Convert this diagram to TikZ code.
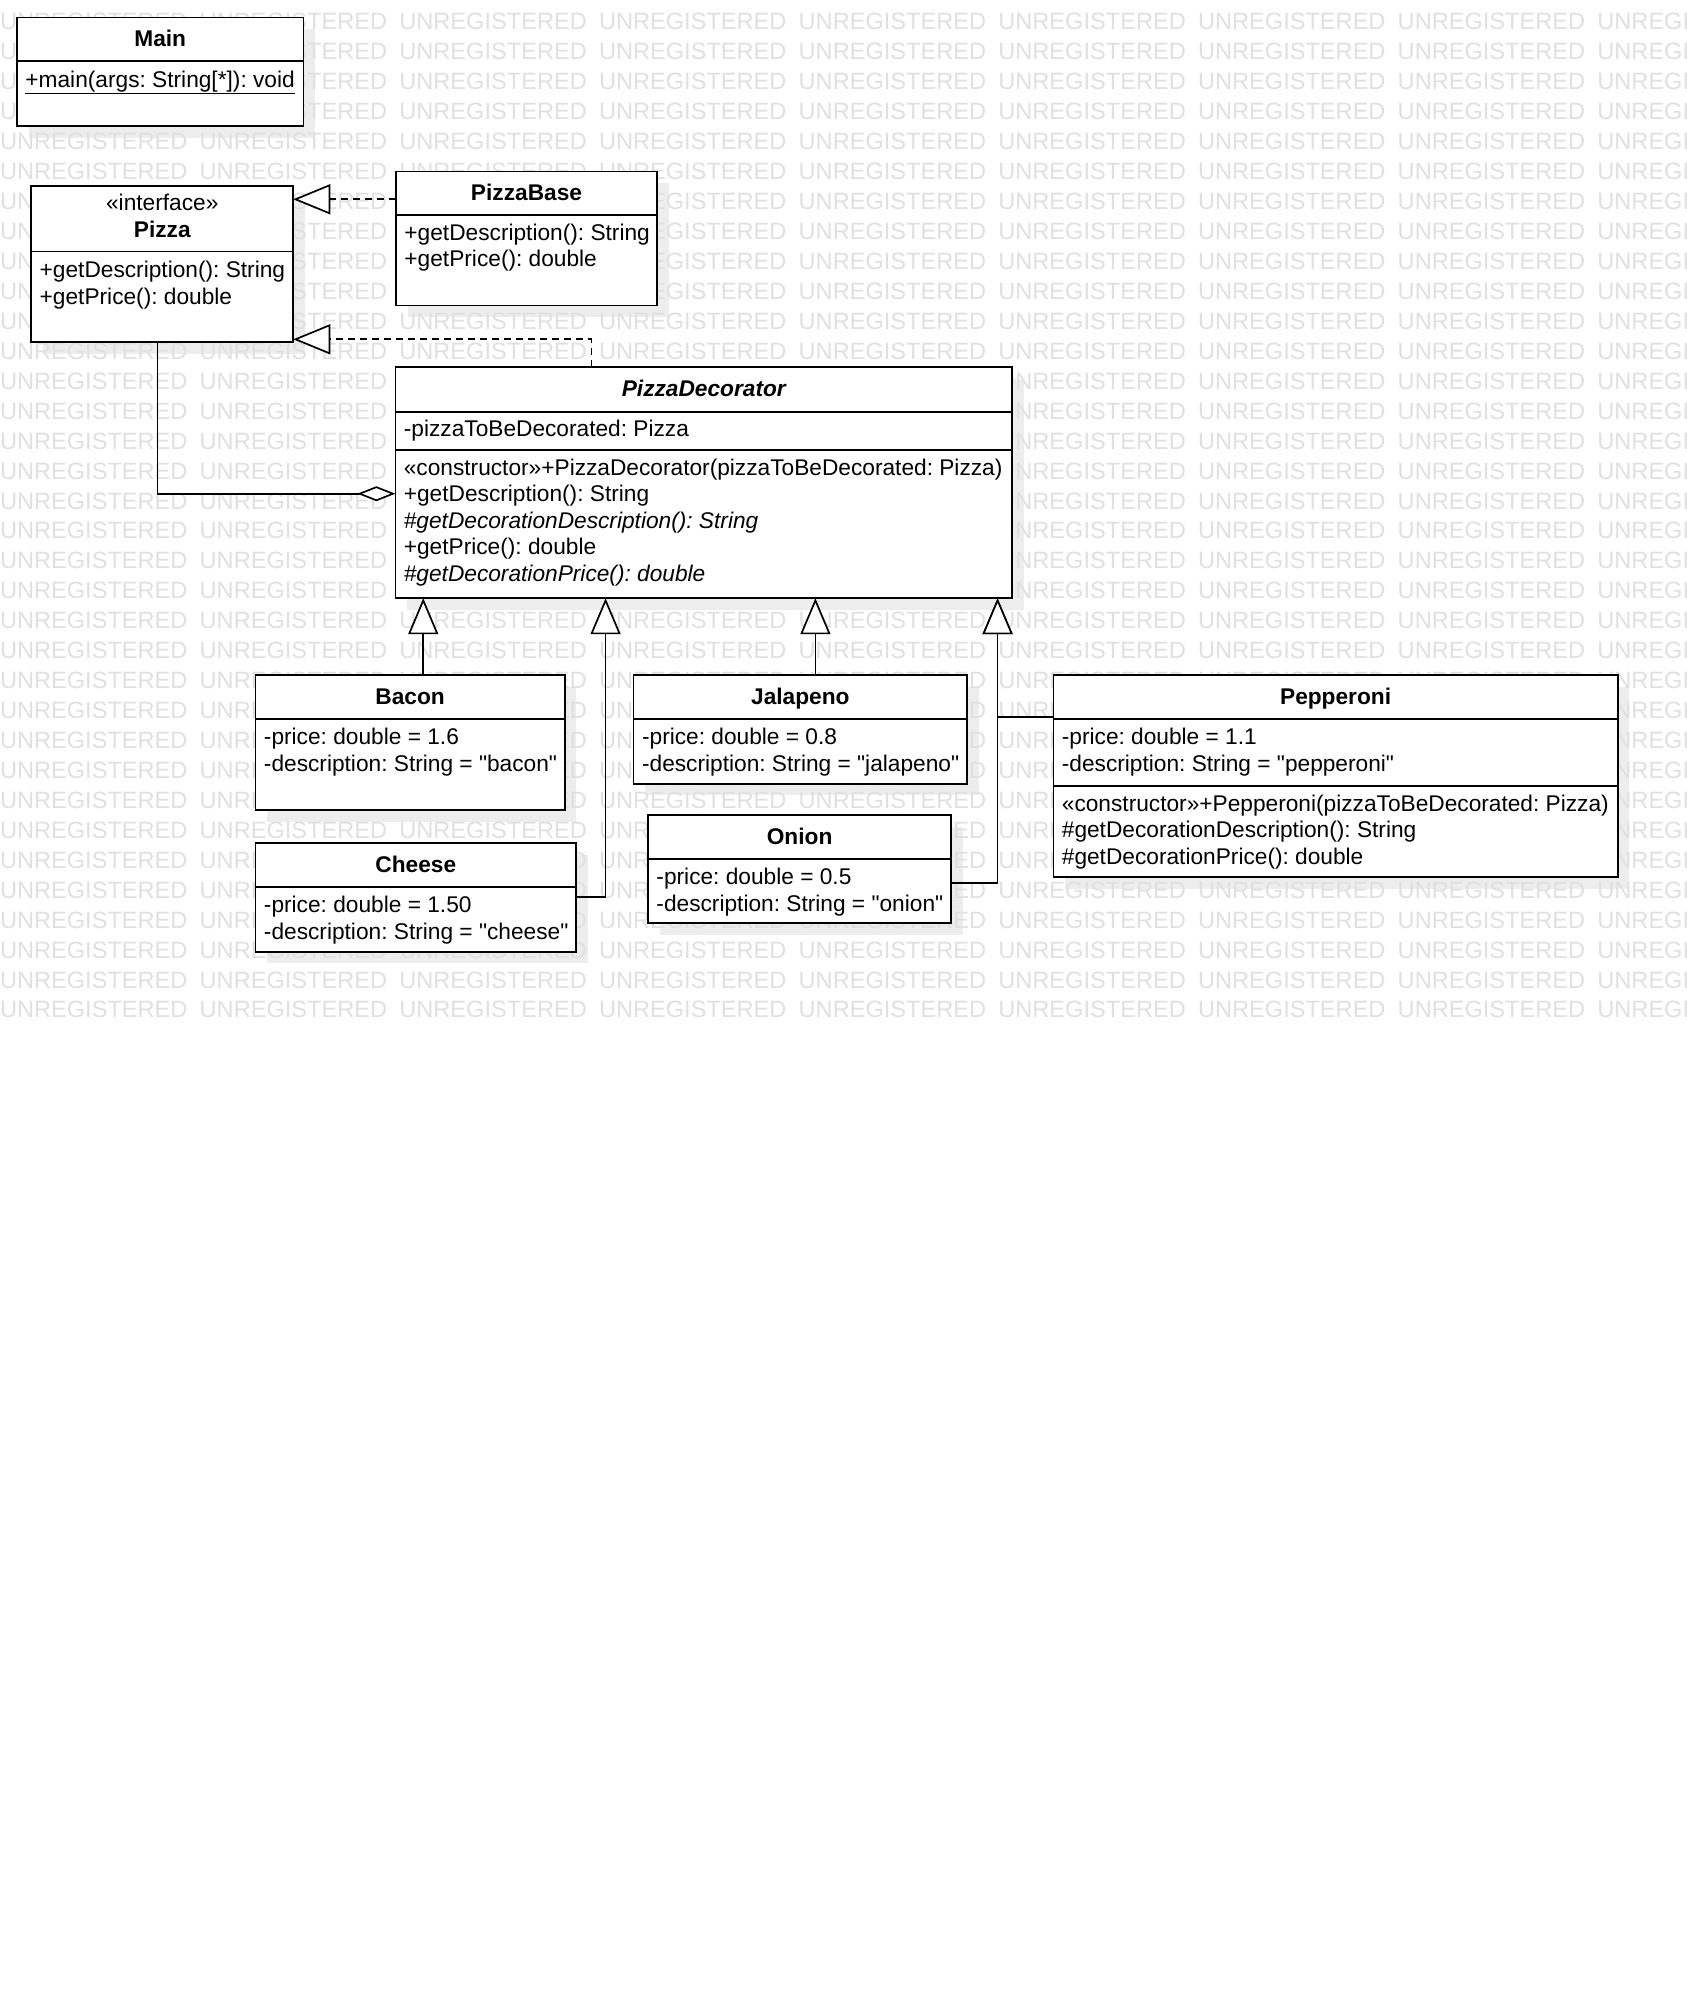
\documentclass[tikz,border=0pt]{standalone}
\usepackage{fontspec}
\setmainfont{Liberation Sans}[Ligatures=TeXOff]
\usetikzlibrary{arrows.meta,fit}
\frenchspacing

\newcommand\mfont{\fontsize{22.7pt}{26.4pt}\selectfont}
\newcommand\tfont{\fontsize{22.7pt}{26.4pt}\selectfont\bfseries}
\newcommand\wmfont{\fontsize{23.6pt}{28pt}\selectfont}

\tikzset{
  umlbox/.style={draw=black, fill=white, line width=1.7pt, inner sep=0pt, outer sep=0pt},
  boxshadow/.style={fill=black!7},
  member/.style={anchor=base west, inner sep=0pt, outer sep=0pt, font=\mfont},
  ctitle/.style={anchor=base, inner sep=0pt, outer sep=0pt, font=\tfont},
  ctext/.style={anchor=base, inner sep=0pt, outer sep=0pt, font=\mfont},
  divider/.style={line width=1.7pt},
  wmark/.style={anchor=base west, inner sep=0pt, outer sep=0pt, text=black!12, font=\wmfont},
  link/.style={line width=1.7pt, draw=black},
  realize/.style={link, dash pattern=on 7pt off 5pt, -{Triangle[length=37pt, width=30pt, fill=white]}},
  generalize/.style={link, -{Triangle[length=36pt, width=30pt, fill=white]}},
  aggregate/.style={link, {Diamond[length=38pt, width=15pt, fill=white]}-},
}

\begin{document}
\begin{tikzpicture}[x=1.2858pt, y=-1.2858pt]
\useasboundingbox (0,0) rectangle (1312,1568);
\fill[white] (0,0) rectangle (1312,1568);

% drop shadows of the class boxes
\foreach \xa/\ya/\xb/\yb in {13.2/13.5/236/98, 24.3/144.4/228.1/266.2, 308/133.5/511/237.7,
  307.5/285.7/787.3/465.3, 198.7/525/439.3/630, 492.8/525/752.1/609.7, 819.3/525/1258.3/682.3,
  198.7/655.9/448/740.2, 504/633.9/739.7/718.1}
  \fill[boxshadow] (\xa+9,\ya+9) rectangle (\xb+9,\yb+9);

% evaluation watermark
\begin{scope}
\clip (0,0) rectangle (1312,1568);
\foreach \r in {0,...,33}
  \foreach \k in {0,...,8}
    \node[wmark] (wm-\r-\k) at ({\k*155.3},{23.33+\r*23.285}) {UNREGISTERED};
\end{scope}

% ---------- Main ----------
\node[umlbox, fit={(13.2,13.5) (236,98)}] (main) {};
\draw[divider] (main.west |- 0,47.4) -- (main.east |- 0,47.4);
\node[ctitle] (main-t) at (124.6,36.3) {Main};
\node[member] (main-m1) at (19.8,67.9) {\underline{+main(args: String[*]): void}};

% ---------- Pizza ----------
\node[umlbox, fit={(24.3,144.4) (228.1,266.2)}] (pizza) {};
\draw[divider] (pizza.west |- 0,195.7) -- (pizza.east |- 0,195.7);
\node[ctext] (pizza-s) at (126.2,163.8) {«interface»};
\node[ctitle] (pizza-t) at (126.2,184.4) {Pizza};
\node[member] (pizza-m1) at (30.9,216.0) {+getDescription(): String};
\node[member] (pizza-m2) at (30.9,236.6) {+getPrice(): double};

% ---------- PizzaBase ----------
\node[umlbox, fit={(308,133.5) (511,237.7)}] (pizzabase) {};
\draw[divider] (pizzabase.west |- 0,167.2) -- (pizzabase.east |- 0,167.2);
\node[ctitle] (pizzabase-t) at (409.5,156.3) {PizzaBase};
\node[member] (pizzabase-m1) at (314.6,187.0) {+getDescription(): String};
\node[member] (pizzabase-m2) at (314.6,207.6) {+getPrice(): double};

% ---------- PizzaDecorator ----------
\node[umlbox, fit={(307.5,285.7) (787.3,465.3)}] (pizzadec) {};
\draw[divider] (pizzadec.west |- 0,320.2) -- (pizzadec.east |- 0,320.2);
\draw[divider] (pizzadec.west |- 0,350) -- (pizzadec.east |- 0,350);
\node[ctitle] (pizzadec-t) at (547.4,308.5) {\itshape PizzaDecorator};
\node[member] (pizzadec-a1) at (314.1,339.8) {-pizzaToBeDecorated: Pizza};
\node[member] (pizzadec-m1) at (314.1,369.6) {«constructor»+PizzaDecorator(pizzaToBeDecorated: Pizza)};
\node[member] (pizzadec-m2) at (314.1,390.2) {+getDescription(): String};
\node[member] (pizzadec-m3) at (314.1,410.8) {\itshape \#getDecorationDescription(): String};
\node[member] (pizzadec-m4) at (314.1,431.4) {+getPrice(): double};
\node[member] (pizzadec-m5) at (314.1,452.0) {\itshape \#getDecorationPrice(): double};

% ---------- Bacon ----------
\node[umlbox, fit={(198.7,525) (439.3,630)}] (bacon) {};
\draw[divider] (bacon.west |- 0,559.4) -- (bacon.east |- 0,559.4);
\node[ctitle] (bacon-t) at (319,547.8) {Bacon};
\node[member] (bacon-a1) at (205.3,579.2) {-price: double = 1.6};
\node[member] (bacon-a2) at (205.3,599.8) {-description: String = "bacon"};

% ---------- Jalapeno ----------
\node[umlbox, fit={(492.8,525) (752.1,609.7)}] (jalapeno) {};
\draw[divider] (jalapeno.west |- 0,559.4) -- (jalapeno.east |- 0,559.4);
\node[ctitle] (jalapeno-t) at (622.5,547.8) {Jalapeno};
\node[member] (jalapeno-a1) at (499.4,579.2) {-price: double = 0.8};
\node[member] (jalapeno-a2) at (499.4,599.8) {-description: String = "jalapeno"};

% ---------- Pepperoni ----------
\node[umlbox, fit={(819.3,525) (1258.3,682.3)}] (pepperoni) {};
\draw[divider] (pepperoni.west |- 0,559.4) -- (pepperoni.east |- 0,559.4);
\draw[divider] (pepperoni.west |- 0,611.3) -- (pepperoni.east |- 0,611.3);
\node[ctitle] (pepperoni-t) at (1038.8,547.8) {Pepperoni};
\node[member] (pepperoni-a1) at (825.9,579.2) {-price: double = 1.1};
\node[member] (pepperoni-a2) at (825.9,599.8) {-description: String = "pepperoni"};
\node[member] (pepperoni-m1) at (825.9,631.1) {«constructor»+Pepperoni(pizzaToBeDecorated: Pizza)};
\node[member] (pepperoni-m2) at (825.9,651.7) {\#getDecorationDescription(): String};
\node[member] (pepperoni-m3) at (825.9,672.3) {\#getDecorationPrice(): double};

% ---------- Cheese ----------
\node[umlbox, fit={(198.7,655.9) (448,740.2)}] (cheese) {};
\draw[divider] (cheese.west |- 0,690.1) -- (cheese.east |- 0,690.1);
\node[ctitle] (cheese-t) at (323.4,678.7) {Cheese};
\node[member] (cheese-a1) at (205.3,709.9) {-price: double = 1.50};
\node[member] (cheese-a2) at (205.3,730.5) {-description: String = "cheese"};

% ---------- Onion ----------
\node[umlbox, fit={(504,633.9) (739.7,718.1)}] (onion) {};
\draw[divider] (onion.west |- 0,668.3) -- (onion.east |- 0,668.3);
\node[ctitle] (onion-t) at (621.9,656.7) {Onion};
\node[member] (onion-a1) at (510.6,688.1) {-price: double = 0.5};
\node[member] (onion-a2) at (510.6,708.7) {-description: String = "onion"};

% ---------- relations ----------
\draw[realize] (pizzabase.west |- 0,155) -- (pizza.east |- 0,155);
\draw[realize] (pizzadec.north -| 460,0) |- (pizza.east |- 0,263.9);
\draw[aggregate] (pizzadec.west |- 0,384) -| (122.5,0 |- pizza.south);

\draw[generalize] (bacon.north -| 329.2,0) -- (pizzadec.south -| 329.2,0);
\draw[generalize] (cheese.east |- 0,697.9) -| (pizzadec.south -| 471,0);
\draw[generalize] (jalapeno.north -| 634.2,0) -- (pizzadec.south -| 634.2,0);
\draw[generalize] (onion.east |- 0,686.5) -| (pizzadec.south -| 775.9,0);
\draw[generalize] (pepperoni.west |- 0,557.4) -| (pizzadec.south -| 775.9,0);
\end{tikzpicture}
\end{document}
